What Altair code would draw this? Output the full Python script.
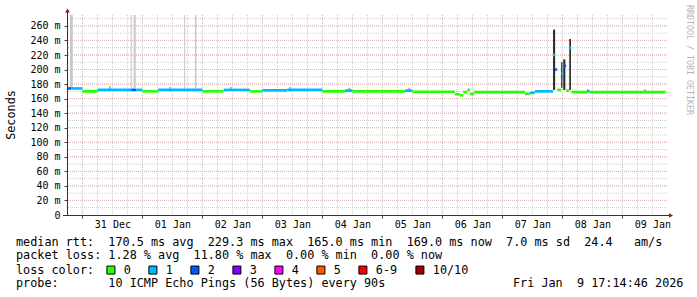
import altair as alt
import pandas as pd

MONO = "DejaVu Sans Mono"

# ---- median rtt segments (start time, median ms, loss class) ----
seg_start = [
    "2025-12-30T17:50", "2025-12-30T19:30", "2025-12-31T00:00", "2025-12-31T06:00",
    "2025-12-31T19:30", "2025-12-31T21:30", "2026-01-01T00:00", "2026-01-01T06:20",
    "2026-01-02T00:00", "2026-01-02T08:30", "2026-01-02T19:00", "2026-01-03T00:00",
    "2026-01-03T10:00", "2026-01-04T00:00", "2026-01-04T09:00", "2026-01-04T12:00",
    "2026-01-05T09:00", "2026-01-05T12:00", "2026-01-06T05:00", "2026-01-06T07:00",
    "2026-01-06T08:20", "2026-01-06T10:00", "2026-01-06T11:00", "2026-01-06T12:40",
    "2026-01-07T09:00", "2026-01-07T11:00", "2026-01-07T13:00", "2026-01-07T20:15",
    "2026-01-07T21:05", "2026-01-07T21:55", "2026-01-07T23:30", "2026-01-08T00:20",
    "2026-01-08T01:30", "2026-01-08T02:45", "2026-01-08T03:35", "2026-01-08T10:00",
    "2026-01-08T11:00",
]
seg_median = [
    174.0, 174.0, 170.0, 172.0,
    172.0, 172.0, 170.0, 172.0,
    170.0, 172.0, 170.0, 171.5,
    172.0, 170.0, 171.0, 170.0,
    171.0, 169.5, 166.0, 164.5,
    169.0, 172.0, 166.5, 169.0,
    166.5, 168.0, 170.0, 220.0,
    200.0, 172.0, 195.0, 205.0,
    171.0, 230.0, 169.0, 170.0,
    169.0,
]
seg_loss = [
    "2", "1", "0", "1",
    "2", "1", "0", "1",
    "0", "1", "0", "1",
    "1", "0", "1", "0",
    "1", "0", "0", "0",
    "0", "0", "0", "0",
    "0", "1", "1", "1",
    "2", "0", "1", "2",
    "0", "1", "0", "1",
    "0",
]
series_end = "2026-01-09T17:14"

# ---- smoke (ping spread) ----
tall_start = ["2025-12-30T19:00", "2025-12-31T19:20", "2025-12-31T20:30", "2026-01-01T16:40", "2026-01-01T21:00"]
tall_end = ["2025-12-30T20:10", "2025-12-31T19:45", "2025-12-31T21:20", "2026-01-01T17:05", "2026-01-01T21:35"]
tall_lo = [175, 174, 174, 174, 174]
tall_hi = [320, 320, 320, 320, 320]

bump_start = ["2025-12-31T10:50", "2026-01-01T10:50", "2026-01-02T11:10", "2026-01-03T10:50",
              "2026-01-04T10:30", "2026-01-05T10:30", "2026-01-08T09:50", "2026-01-09T08:50"]
bump_end = ["2025-12-31T11:15", "2026-01-01T11:15", "2026-01-02T11:35", "2026-01-03T11:15",
            "2026-01-04T10:55", "2026-01-05T10:55", "2026-01-08T10:15", "2026-01-09T09:15"]
bump_lo = [171, 171, 171, 171, 170, 170, 169, 169]
bump_hi = [177, 176, 176, 176, 175, 175, 173, 173]

spike_start = ["2026-01-07T20:15", "2026-01-07T23:30", "2026-01-08T00:20", "2026-01-08T02:45"]
spike_end = ["2026-01-07T21:05", "2026-01-08T00:00", "2026-01-08T01:10", "2026-01-08T03:25"]
spike_lo = [172, 175, 172, 172]
spike_hi = [255, 210, 214, 242]

# ---- loss colour legend ----
loss_classes = ["0", "1", "2", "3", "4", "5", "6-9", "10/10"]
loss_colors = ["#26ff00", "#00b8ff", "#0059ff", "#7e00ff", "#ff00ff", "#ff5500", "#ff0000", "#a10000"]

# ---- axis ticks ----
y_ticks = list(range(0, 261, 20))
day_ticks = ["2025-12-31T00:00"] + [f"2026-01-{d:02d}T00:00" for d in range(1, 10)]

# ---- text lines ----
rtt_line = "median rtt:  170.5 ms avg  229.3 ms max  165.0 ms min  169.0 ms now  7.0 ms sd  24.4   am/s"
loss_line = "packet loss: 1.28 % avg  11.80 % max  0.00 % min  0.00 % now"
probe_line = "probe:       10 ICMP Echo Pings (56 Bytes) every 90s"
date_line = "Fri Jan  9 17:14:46 2026"
watermark = "RRDTOOL / TOBI OETIKER"
y_title = "Seconds"

NB = "\u00a0"
def nb(s):
    return s.replace(" ", NB)

# ---------------------------------------------------------------
x_scale = alt.Scale(domain=[alt.DateTime(year=2025, month=12, date=30, hours=17, minutes=50),
                            alt.DateTime(year=2026, month=1, date=9, hours=17, minutes=50)])
y_scale = alt.Scale(domain=[0, 275], nice=False, zero=False)

def to_dt(s):
    ts = pd.Timestamp(s)
    return alt.DateTime(year=ts.year, month=ts.month, date=ts.day, hours=ts.hour, minutes=ts.minute)

x_axis = alt.Axis(values=[to_dt(d) for d in day_ticks], format="%d %b", labelOffset=30,
                  tickSize=3, tickColor="#444444", labelPadding=1, grid=False, domain=False,
                  title=None, labelFont=MONO, labelFontSize=10, labelColor="black",
                  labelFlush=False, labelOverlap=False, labelBound=False)
y_axis = alt.Axis(values=y_ticks,
                  labelExpr=f"datum.value == 0 ? '0{NB}{NB}' : datum.value + '{NB}m'",
                  tickSize=3, tickColor="#444444", labelPadding=4, grid=False, domain=False,
                  title=None, labelFont=MONO, labelFontSize=10, labelColor="black")

seg_df = pd.DataFrame({
    "start": seg_start,
    "end": seg_start[1:] + [series_end],
    "median": seg_median,
    "loss": seg_loss,
})

minor_x = pd.DataFrame({"t": [t.strftime("%Y-%m-%dT%H:%M") for t in pd.date_range("2025-12-30T18:00", "2026-01-09T12:00", freq="6h")]})
major_x = pd.DataFrame({"t": day_ticks})
minor_y = pd.DataFrame({"v": list(range(10, 271, 10))})
major_y = pd.DataFrame({"v": list(range(20, 261, 20))})

MINOR = "#cdcdcd"
MAJOR = "#ebb0b0"
grid_minor_x = alt.Chart(minor_x).mark_rule(stroke=MINOR, strokeWidth=1, strokeDash=[1, 1]).encode(
    x=alt.X("t:T", scale=x_scale, axis=x_axis))
grid_minor_y = alt.Chart(minor_y).mark_rule(stroke=MINOR, strokeWidth=1, strokeDash=[1, 1]).encode(
    y=alt.Y("v:Q", scale=y_scale, axis=y_axis))
grid_major_x = alt.Chart(major_x).mark_rule(stroke=MAJOR, strokeWidth=1, strokeDash=[1, 1]).encode(
    x=alt.X("t:T", scale=x_scale, axis=x_axis))
grid_major_y = alt.Chart(major_y).mark_rule(stroke=MAJOR, strokeWidth=1, strokeDash=[1, 1]).encode(
    y=alt.Y("v:Q", scale=y_scale, axis=y_axis))

def smoke_layer(st, en, lo, hi, color):
    df = pd.DataFrame({"s": st, "e": en, "lo": lo, "hi": hi})
    return alt.Chart(df).mark_rect(fill=color, clip=True).encode(
        x=alt.X("s:T", scale=x_scale, axis=x_axis), x2="e:T",
        y=alt.Y("lo:Q", scale=y_scale, axis=y_axis), y2="hi:Q")

tall = smoke_layer(tall_start, tall_end, tall_lo, tall_hi, "#c8c8c8")
bumps = smoke_layer(bump_start, bump_end, bump_lo, bump_hi, "#707070")
spikes = smoke_layer(spike_start, spike_end, spike_lo, spike_hi, "#2a2a2a")

median = alt.Chart(seg_df).transform_calculate(
    lo="datum.median - 1.8", hi="datum.median + 1.8"
).mark_rect(clip=True).encode(
    x=alt.X("start:T", scale=x_scale, axis=x_axis),
    x2="end:T",
    y=alt.Y("lo:Q", scale=y_scale, axis=y_axis),
    y2="hi:Q",
    fill=alt.Fill("loss:N", scale=alt.Scale(domain=loss_classes, range=loss_colors), sort=loss_classes,
                  legend=alt.Legend(title="loss color:", orient="none", legendX=-51, legendY=249,
                                    direction="horizontal", titleOrient="left", symbolType="square",
                                    symbolSize=64, symbolStrokeColor="black", symbolStrokeWidth=1,
                                    labelFont=MONO, labelFontSize=11.8, labelColor="black",
                                    titleFont=MONO, titleFontSize=11.8, titleFontWeight="normal",
                                    titleColor="black", titlePadding=10, labelOffset=7,
                                    columnPadding=15, padding=0, symbolOpacity=1)),
)

# axis lines and arrows
axis_col = "#333333"
arrow_col = "#7f1f1f"
y_line = alt.Chart(pd.DataFrame({"a": [0]})).mark_rule(stroke=axis_col, strokeWidth=1).encode(
    x=alt.value(0.5), y=alt.value(-3), y2=alt.value(200))
x_line = alt.Chart(pd.DataFrame({"a": [0]})).mark_rule(stroke=axis_col, strokeWidth=1).encode(
    x=alt.value(-4), x2=alt.value(602), y=alt.value(200.5))
arrow_up = alt.Chart(pd.DataFrame({"a": [0]})).mark_point(shape="triangle-up", filled=True, size=22,
                                                         color=arrow_col, opacity=1).encode(
    x=alt.value(0.5), y=alt.value(-4.5))
arrow_right = alt.Chart(pd.DataFrame({"a": [0]})).mark_point(shape="triangle-right", filled=True, size=22,
                                                            color=arrow_col, opacity=1).encode(
    x=alt.value(604), y=alt.value(200.5))

def text_layer(s, x, y, size=11.8, color="black", angle=0, align="left"):
    return alt.Chart(pd.DataFrame({"t": [nb(s)]})).mark_text(
        font=MONO, fontSize=size, color=color, align=align, baseline="middle", angle=angle).encode(
        text="t:N", x=alt.value(x), y=alt.value(y))

texts = [
    text_layer(rtt_line, -51, 226.7),
    text_layer(loss_line, -51, 240.3),
    text_layer(probe_line, -51, 268.3),
    text_layer(date_line, 446, 268.3),
    text_layer(y_title, -56, 100, angle=270, align="center"),
    text_layer(watermark, 621.5, -10, size=8.3, color="#b4b4b4", angle=90),
]

chart = alt.layer(
    grid_minor_x, grid_minor_y, grid_major_x, grid_major_y,
    tall, bumps, spikes, median,
    y_line, x_line, arrow_up, arrow_right, *texts
).properties(
    width=600, height=200,
    autosize=alt.AutoSizeParams(type="none"),
    padding={"left": 67, "top": 15, "right": 30, "bottom": 82},
    background="white",
).configure_view(stroke=None)

chart.save("out.html", embed_options={"renderer": "svg", "actions": False})
